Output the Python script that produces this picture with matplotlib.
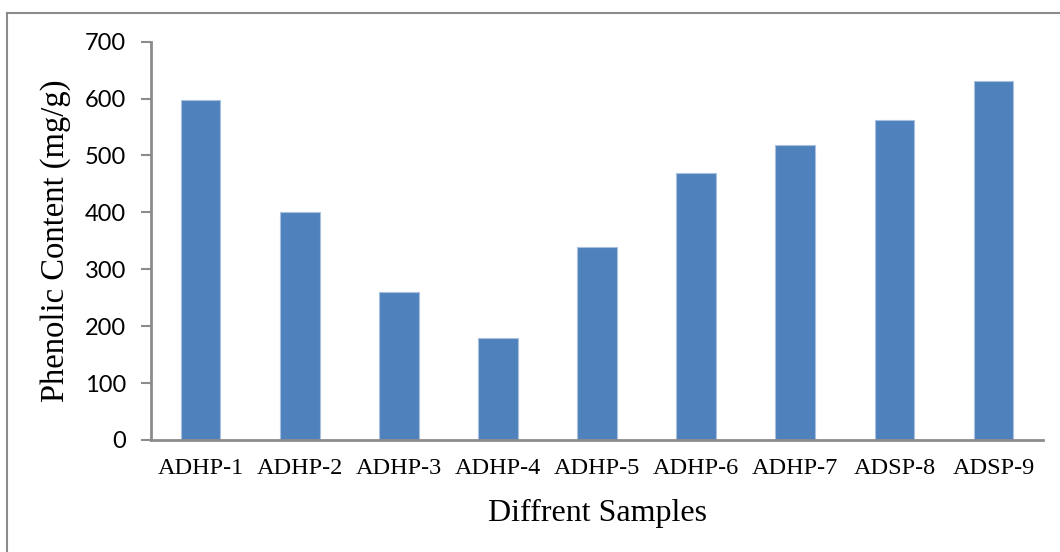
import matplotlib
matplotlib.use("Agg")
import matplotlib.pyplot as plt
from matplotlib.lines import Line2D

samples = ["ADHP-1", "ADHP-2", "ADHP-3", "ADHP-4", "ADHP-5",
           "ADHP-6", "ADHP-7", "ADSP-8", "ADSP-9"]
phenolic = [597, 400, 260, 180, 340, 470, 518, 563, 631]
y_ticks = [0, 100, 200, 300, 400, 500, 600, 700]

bar_color = "#4F81BD"
axis_gray = "#8C8C8C"

fig = plt.figure(figsize=(10.6, 5.52), dpi=100)
ax = fig.add_axes([0.1425, 0.2029, 0.8415, 0.7216])

x = range(len(samples))
ax.bar(x, phenolic, width=0.40, color=bar_color,
       edgecolor="#A9C0DF", linewidth=0.8)

ax.set_xlim(-0.5, len(samples) - 0.5)
ax.set_ylim(0, 700)
ax.set_yticks(y_ticks)
ax.set_yticklabels([str(v) for v in y_ticks], family="Lato", fontsize=17)
ax.set_xticks(list(x))
ax.set_xticklabels(samples, family="Liberation Serif", fontsize=17.5)

ax.tick_params(axis="x", length=0, pad=13)
ax.tick_params(axis="y", length=7, width=1.5, color=axis_gray, pad=11)

for side in ("top", "right"):
    ax.spines[side].set_visible(False)
for side in ("left", "bottom"):
    ax.spines[side].set_color(axis_gray)
    ax.spines[side].set_linewidth(2)

ax.set_xlabel("Diffrent Samples", family="Liberation Serif", fontsize=23, labelpad=14)
ax.set_ylabel("Phenolic Content (mg/g)", family="Liberation Serif", fontsize=23.5, labelpad=10)

# chart-area frame (left and top edges)
W, H = 1060, 552
fig.add_artist(Line2D([7 / W, 7 / W], [0, 1 - 13 / H], transform=fig.transFigure,
                      color=axis_gray, linewidth=1.5))
fig.add_artist(Line2D([7 / W, 1], [1 - 13 / H, 1 - 13 / H], transform=fig.transFigure,
                      color=axis_gray, linewidth=1.5))

fig.savefig("out.png", dpi=100)
